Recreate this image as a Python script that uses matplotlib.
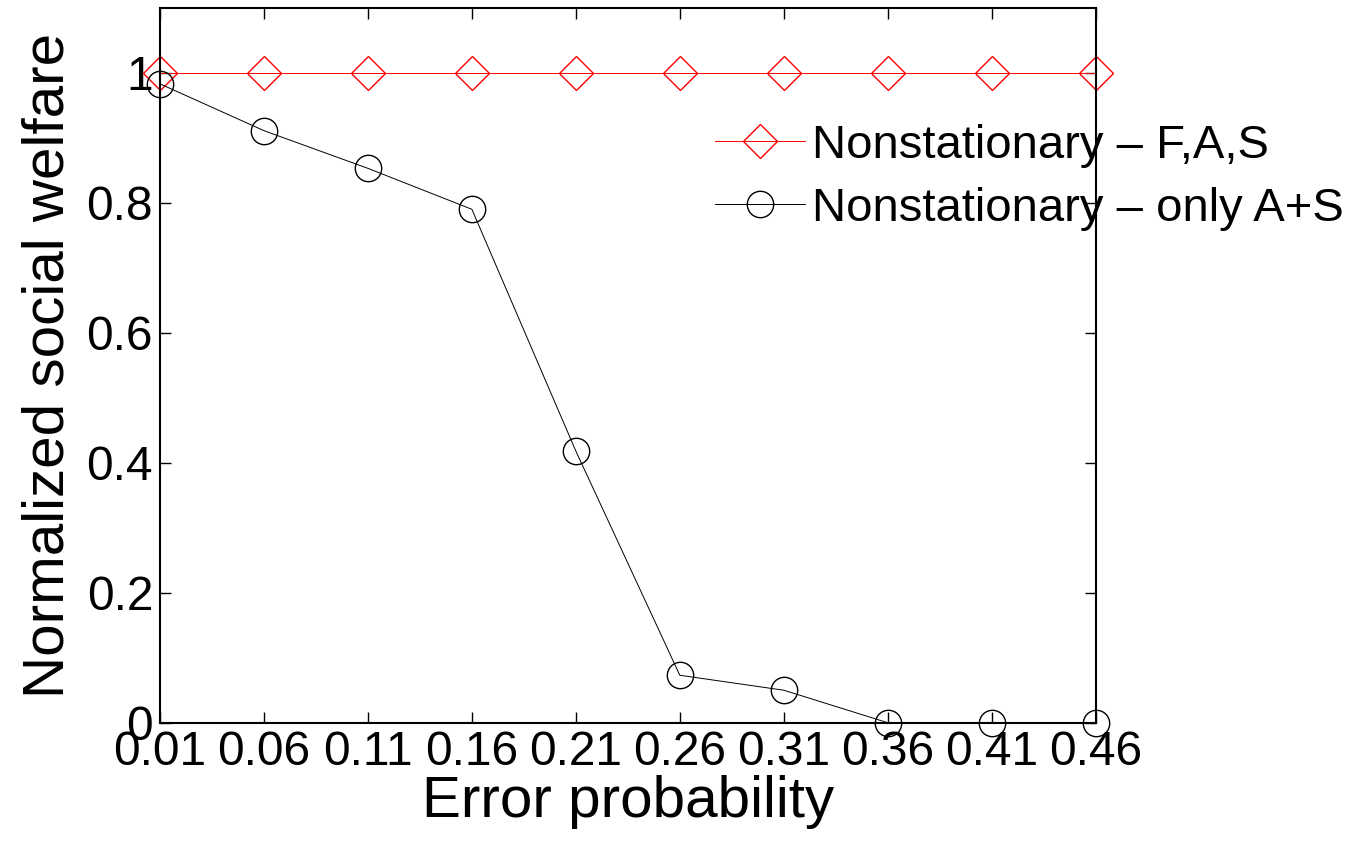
import numpy as np
import matplotlib.pyplot as plt

plt.rcParams['font.family'] = ['Liberation Sans', 'DejaVu Sans']

# data
error_prob = [0.01, 0.06, 0.11, 0.16, 0.21, 0.26, 0.31, 0.36, 0.41, 0.46]
welfare_fas = [1, 1, 1, 1, 1, 1, 1, 1, 1, 1]
welfare_as = [0.983, 0.911, 0.853, 0.790, 0.418, 0.073, 0.050, 0.0, 0.0, 0.0]
xtick_labels = ['0.01', '0.06', '0.11', '0.16', '0.21', '0.26', '0.31', '0.36', '0.41', '0.46']

fig = plt.figure(figsize=(13.56, 8.43), dpi=100)
ax = fig.add_axes([0.118, 0.1427, 0.690, 0.848])

ax.plot(error_prob, welfare_fas, color='#ff0000', lw=0.7, marker='D',
        markersize=17, markerfacecolor='none', markeredgecolor='#ff0000',
        markeredgewidth=1.0, clip_on=False, label='Nonstationary \u2013 F,A,S')
ax.plot(error_prob, welfare_as, color='black', lw=0.7, marker='o',
        markersize=19, markerfacecolor='none', markeredgecolor='black',
        markeredgewidth=1.0, clip_on=False, label='Nonstationary \u2013 only A+S')

ax.set_xlim(0.01, 0.46)
ax.set_ylim(0, 1.1)
ax.set_xticks(error_prob)
ax.set_xticklabels(xtick_labels)
ax.set_yticks([0, 0.2, 0.4, 0.6, 0.8, 1.0])
ax.set_yticklabels(['0', '0.2', '0.4', '0.6', '0.8', '1'])
ax.tick_params(direction='in', length=8, width=1, labelsize=34.5,
               top=True, right=True, pad=5)
for s in ax.spines.values():
    s.set_linewidth(1.5)

ax.set_xlabel('Error probability', fontsize=42, labelpad=0)
ax.set_ylabel('Normalized social welfare', fontsize=42, labelpad=8)

leg = ax.legend(loc='upper left', bbox_to_anchor=(715 / 1356, 1 - 124 / 843),
                bbox_transform=fig.transFigure, frameon=False, fontsize=34,
                borderpad=0, borderaxespad=0, handlelength=1.9,
                handletextpad=0.15, labelspacing=0.4)
leg.set_zorder(1)

fig.savefig('out.png', dpi=100)
